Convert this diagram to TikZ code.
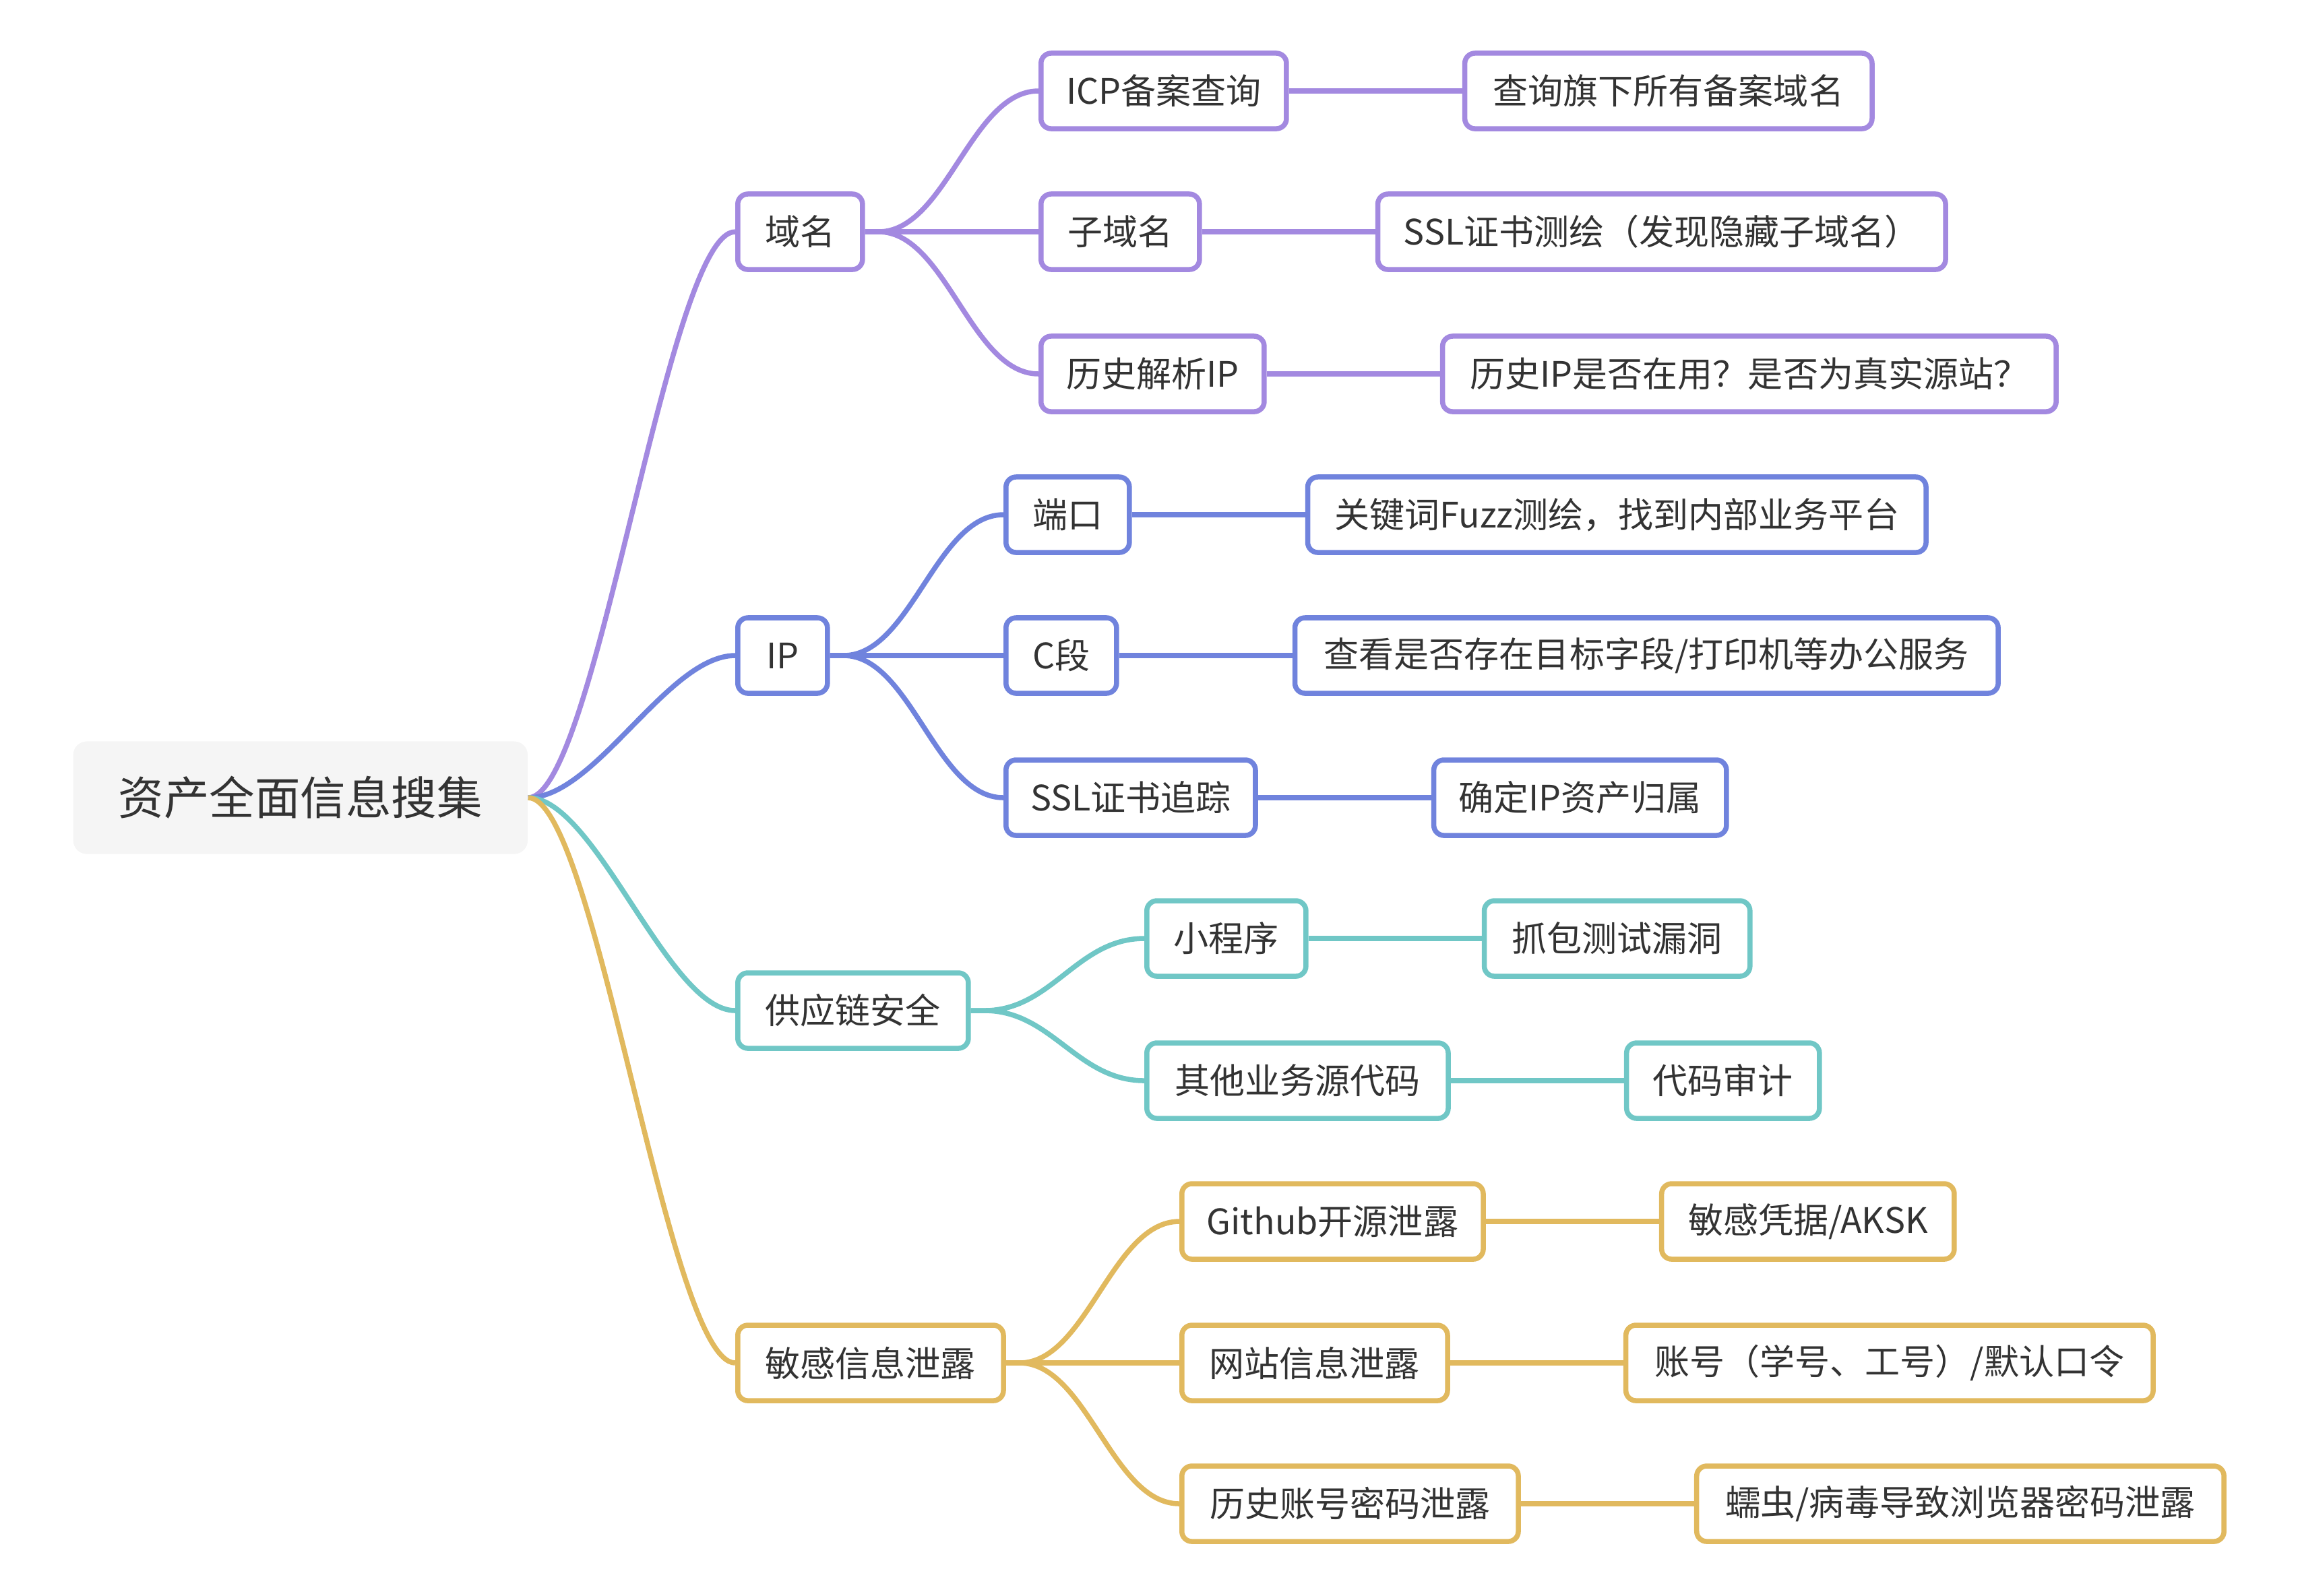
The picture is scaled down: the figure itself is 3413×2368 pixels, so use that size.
\documentclass[tikz,border=0pt]{standalone}
\usepackage{fontspec}
\setmainfont{Noto Sans CJK SC}
\usetikzlibrary{positioning}
\definecolor{cdomain}{HTML}{A389E0}
\definecolor{cip}{HTML}{7083DD}
\definecolor{csupply}{HTML}{70C7C6}
\definecolor{cleak}{HTML}{E1B95E}
\definecolor{ctext}{HTML}{333333}
\begin{document}
\begin{tikzpicture}[x=.01cm,y=-.01cm]
  \tikzstyle{topic} = [rectangle, draw, fill=white, text=ctext, line width=.075cm, rounded corners=.15cm,
                                    minimum height=1.12cm, inner sep=0pt, font=\fontsize{14.8}{17}\selectfont]
  \tikzstyle{rootnode} = [rectangle, fill=black!4, text=ctext, rounded corners=.2cm, minimum width=6.74cm,
                                    minimum height=1.67cm, inner sep=0pt, font=\fontsize{19.2}{22}\selectfont]
  \tikzstyle{straightlink} = [line width=.075cm]
  \tikzstyle{curvelink} = [straightlink,out=0,in=180,distance=1cm]
  \useasboundingbox (0,0) rectangle (3413,2368);
\node[rootnode,anchor=west] (res) at (108,1184) {资产全面信息搜集};
\node[topic,draw=cdomain,anchor=west,minimum width=1.85cm] (dom) at (1091,344) {域名};
\node[topic,draw=cip,anchor=west,minimum width=1.33cm] (ip) at (1091,973) {IP};
\node[topic,draw=csupply,anchor=west,minimum width=3.42cm] (sup) at (1091,1500) {供应链安全};
\node[topic,draw=cleak,anchor=west,minimum width=3.94cm] (leak) at (1091,2023) {敏感信息泄露};
\node[topic,draw=cdomain,anchor=west,minimum width=3.64cm] (icp) at (1541,135) {ICP备案查询};
\node[topic,draw=cdomain,anchor=west,minimum width=2.35cm] (sub) at (1541,344) {子域名};
\node[topic,draw=cdomain,anchor=west,minimum width=3.31cm] (hist) at (1541,555) {历史解析IP};
\node[topic,draw=cdomain,right=2.57cm of icp,minimum width=6.04cm] (icpq) {查询旗下所有备案域名};
\node[topic,draw=cdomain,right=2.57cm of sub,minimum width=8.42cm] (subq) {SSL证书测绘（发现隐藏子域名）};
\node[topic,draw=cdomain,right=2.57cm of hist,minimum width=9.10cm] (histq) {历史IP是否在用？是否为真实源站？};
\node[topic,draw=cip,anchor=west,minimum width=1.83cm] (port) at (1489,764) {端口};
\node[topic,draw=cip,anchor=west,minimum width=1.64cm] (cseg) at (1489,973) {C段};
\node[topic,draw=cip,anchor=west,minimum width=3.70cm] (cert) at (1489,1184) {SSL证书追踪};
\node[topic,draw=cip,right=2.57cm of port,minimum width=9.17cm] (portq) {关键词Fuzz测绘，找到内部业务平台};
\node[topic,draw=cip,right=2.57cm of cseg,minimum width=10.43cm] (csegq) {查看是否存在目标字段/打印机等办公服务};
\node[topic,draw=cip,right=2.57cm of cert,minimum width=4.34cm] (certq) {确定IP资产归属};
\node[topic,draw=csupply,anchor=west,minimum width=2.36cm] (mini) at (1698,1393) {小程序};
\node[topic,draw=csupply,anchor=west,minimum width=4.47cm] (src) at (1698,1604) {其他业务源代码};
\node[topic,draw=csupply,right=2.57cm of mini,minimum width=3.94cm] (miniq) {抓包测试漏洞};
\node[topic,draw=csupply,right=2.57cm of src,minimum width=2.86cm] (srcq) {代码审计};
\node[topic,draw=cleak,anchor=west,minimum width=4.47cm] (git) at (1750,1813) {Github开源泄露};
\node[topic,draw=cleak,anchor=west,minimum width=3.94cm] (web) at (1750,2023) {网站信息泄露};
\node[topic,draw=cleak,anchor=west,minimum width=4.99cm] (acc) at (1750,2232) {历史账号密码泄露};
\node[topic,draw=cleak,right=2.57cm of git,minimum width=4.34cm] (gitq) {敏感凭据/AKSK};
\node[topic,draw=cleak,right=2.57cm of web,minimum width=7.82cm] (webq) {账号（学号、工号）/默认口令};
\node[topic,draw=cleak,right=2.57cm of acc,minimum width=7.82cm] (accq) {蠕虫/病毒导致浏览器密码泄露};
\draw[curvelink,cdomain] (res.east) to (dom.west);
\draw[curvelink,cip] (res.east) to (ip.west);
\draw[curvelink,csupply] (res.east) to (sup.west);
\draw[curvelink,cleak] (res.east) to (leak.west);
\draw[curvelink,cdomain] (dom.east) -- ++(20,0) to (icp.west);
\draw[straightlink,cdomain] (dom) -- (sub);
\draw[curvelink,cdomain] (dom.east) -- ++(20,0) to (hist.west);
\draw[straightlink,cdomain] (icp) -- (icpq);
\draw[straightlink,cdomain] (sub) -- (subq);
\draw[straightlink,cdomain] (hist) -- (histq);
\draw[curvelink,cip] (ip.east) -- ++(20,0) to (port.west);
\draw[straightlink,cip] (ip) -- (cseg);
\draw[curvelink,cip] (ip.east) -- ++(20,0) to (cert.west);
\draw[straightlink,cip] (port) -- (portq);
\draw[straightlink,cip] (cseg) -- (csegq);
\draw[straightlink,cip] (cert) -- (certq);
\draw[curvelink,csupply] (sup.east) -- ++(20,0) to (mini.west);
\draw[curvelink,csupply] (sup.east) -- ++(20,0) to (src.west);
\draw[straightlink,csupply] (mini) -- (miniq);
\draw[straightlink,csupply] (src) -- (srcq);
\draw[curvelink,cleak] (leak.east) -- ++(20,0) to (git.west);
\draw[straightlink,cleak] (leak) -- (web);
\draw[curvelink,cleak] (leak.east) -- ++(20,0) to (acc.west);
\draw[straightlink,cleak] (git) -- (gitq);
\draw[straightlink,cleak] (web) -- (webq);
\draw[straightlink,cleak] (acc) -- (accq);
\end{tikzpicture}
\end{document}
